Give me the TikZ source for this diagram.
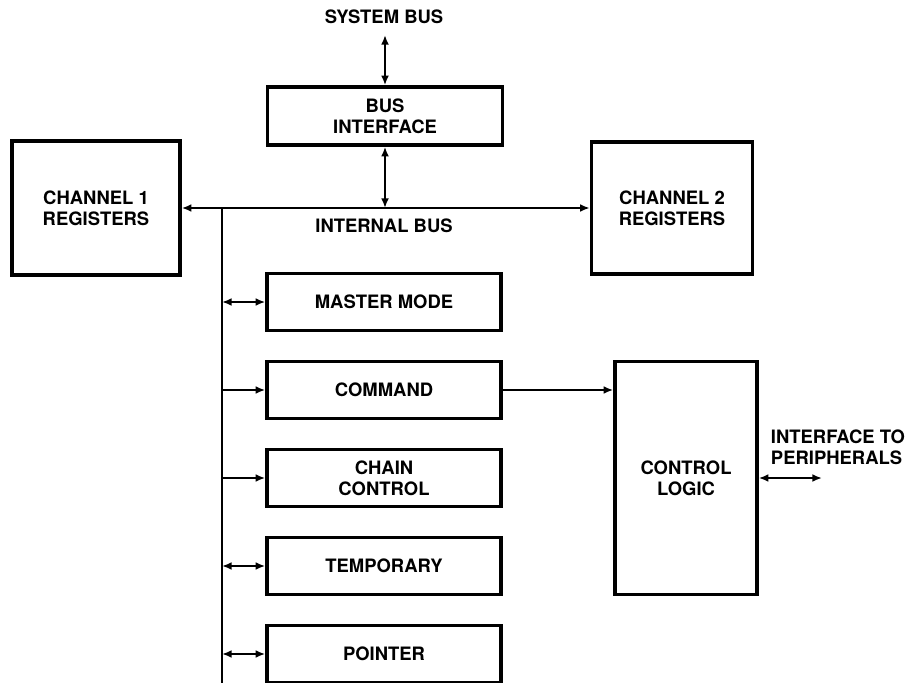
\documentclass[tikz,border=0pt]{standalone}
\usepackage{fontspec}
\setmainfont{TeX Gyre Heros}
\usetikzlibrary{arrows.meta,positioning}

\begin{document}
\begin{tikzpicture}[x=0.02cm, y=-0.02cm, line width=1.3pt,
      font=\bfseries\fontsize{10.5}{12}\selectfont,
      >={Latex[length=5.5pt,width=4.5pt]},
      reg/.style={draw, line width=2pt, minimum width=4.68cm, minimum height=1.14cm, align=center},
      big/.style={draw, line width=2pt, align=center}]
      \useasboundingbox (0,0) rectangle (911,682);
      % boxes
      \node (sysbus) at (384,17) {SYSTEM BUS};
      \node[reg, minimum width=4.7cm, minimum height=1.16cm] (busif) at (385,116) {BUS\\INTERFACE};
      \node[big, minimum width=3.36cm, minimum height=2.68cm] (ch1) at (96,208) {CHANNEL 1\\REGISTERS};
      \node[big, minimum width=3.22cm, minimum height=2.64cm] (ch2) at (672,208) {CHANNEL 2\\REGISTERS};
      \node (intbus) at (384,226) {INTERNAL BUS};
      \node[reg] (master) at (384,302) {MASTER MODE};
      \node[reg, below=0.55cm of master] (command) {COMMAND};
      \node[reg, below=0.55cm of command] (chain) {CHAIN\\CONTROL};
      \node[reg, below=0.55cm of chain] (temp) {TEMPORARY};
      \node[reg, below=0.55cm of temp] (pointer) {POINTER};
      \node[big, minimum width=2.84cm, minimum height=4.66cm] (ctrl) at (686,478) {CONTROL\\LOGIC};
      \node[align=left] (periphtxt) at (838,447) {INTERFACE TO\\PERIPHERALS};
      % buses
      \coordinate (sys) at (385,35);
      \coordinate (vtop) at (222,208);
      \coordinate (vbot) at (222,690);
      \coordinate (periph) at (822,478);
      \draw[<->] (sys) -- (busif);
      \draw[<->] (ch1.east) -- (ch2.west);
      \coordinate (join) at (busif.south |- ch1.east);
      \draw[<->] (busif) -- (join);
      \draw (vtop) -- (vbot);
      \foreach \r in {master,temp,pointer}
            \draw[<->] (vtop |- \r.west) -- (\r.west);
      \foreach \r in {command,chain}
            \draw[->] (vtop |- \r.west) -- (\r.west);
      \draw[->] (command) -- (command -| ctrl.west);
      \draw[<->] (ctrl.east) -- (periph);
\end{tikzpicture}
\end{document}
